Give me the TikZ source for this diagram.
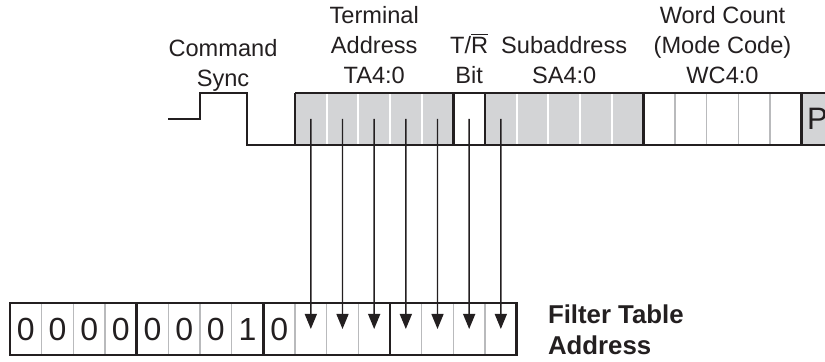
\documentclass[tikz,border=0pt]{standalone}
\usepackage{fontspec}
\setmainfont{Liberation Sans}
\usetikzlibrary{arrows.meta}
\usepackage{xcolor}

\definecolor{cellgray}{RGB}{211,212,214}
\definecolor{inkdark}{RGB}{35,31,32}
\definecolor{sepgray}{RGB}{185,186,188}

\begin{document}
\begin{tikzpicture}[x=0.5pt,y=-0.5pt,
		every node/.style={inner sep=0pt,outer sep=0pt,text=inkdark},
		topcell/.style={minimum width=15.83pt,minimum height=26pt,fill=white},
		botcell/.style={minimum width=15.83pt,minimum height=26pt,font=\fontsize{16}{18}\selectfont},
		frame/.style={draw=inkdark,line width=1.2pt},
		whitesep/.style={draw=white,line width=1pt},
		graysep/.style={draw=sepgray,line width=0.7pt},
		bitarrow/.style={draw=inkdark,line width=0.7pt,-{Triangle[length=7.5pt,width=6pt]}},
		fieldlabel/.style={align=center,anchor=base,font=\fontsize{11.8}{15}\selectfont}]
		\useasboundingbox (0,0) rectangle (825,362);
		
		% Command word cells: TA4:0, T/R, SA4:0, WC4:0, P
		\foreach \i in {0,1,2,3,4,6,7,8,9,10}
			\node[topcell,fill=cellgray] (t\i) at ({295+(\i+0.5)*31.667},119) {};
		\foreach \i in {5,11,12,13,14,15}
			\node[topcell] (t\i) at ({295+(\i+0.5)*31.667},119) {};
		\node[topcell,fill=cellgray,font=\fontsize{15.5}{18}\selectfont] (t16) at ({295+16.5*31.667},119) {P};
		
		% Separators inside the fields
		\foreach \i in {0,1,2,3,6,7,8,9}
			\draw[whitesep] (t\i.north east) -- (t\i.south east);
		\foreach \i in {11,12,13,14}
			\draw[graysep] (t\i.north east) -- (t\i.south east);
		\foreach \i in {4,5,10,15}
			\draw[frame] (t\i.north east) -- (t\i.south east);
		\draw[frame] (t0.north west) -- (t16.north east);
		
		% Command sync waveform running into the word
		\coordinate (idle) at (168,119);
		\draw[frame,line join=miter] (idle) -- (200,119) -- (200,93) -- (247,93) -- (247,145) -- (t16.south east);
		\draw[frame] (t0.south west) -- (t0.north west);
		
		% Filter table address bits
		\foreach \d [count=\j from 0] in {0,0,0,0,0,0,0,1,0}
			\node[botcell] (b\j) at ({10+(\j+0.5)*31.667},329) {\d};
		\foreach \j in {9,...,15}
			\node[botcell] (b\j) at ({10+(\j+0.5)*31.667},329) {};
		\foreach \j in {0,1,2,4,5,6,8,9,10,12,13,14}
			\draw[graysep] (b\j.north east) -- (b\j.south east);
		\foreach \j in {3,7,11}
			\draw[frame] (b\j.north east) -- (b\j.south east);
		\draw[frame] (b0.north west) rectangle (b15.south east);
		
		% Bits copied into the address
		\foreach \i [evaluate=\i as \j using int(\i+9)] in {0,...,6}
			\draw[bitarrow] (t\i.center) -- (b\j.center);
		
		% Field labels (anchored at the baseline of the last line)
		\node[fieldlabel] (synclbl) at (223,86.8) {Command\\Sync};
		\node[fieldlabel] (talbl) at (374.2,83.3) {Terminal\\Address\\TA4:0};
		\node[fieldlabel] (trlbl) at (469.2,83.3) {T/$\overline{\hbox{R}}$\\Bit};
		\node[fieldlabel] (salbl) at (564.2,83.3) {Subaddress\\SA4:0};
		\node[fieldlabel] (wclbl) at (722.5,83.3) {Word Count\\(Mode Code)\\WC4:0};
		\node[align=left,anchor=base west,font=\fontsize{12.9}{15.5}\selectfont\bfseries] (ftlbl) at (548,355) {Filter Table\\Address};
	\end{tikzpicture}
\end{document}
